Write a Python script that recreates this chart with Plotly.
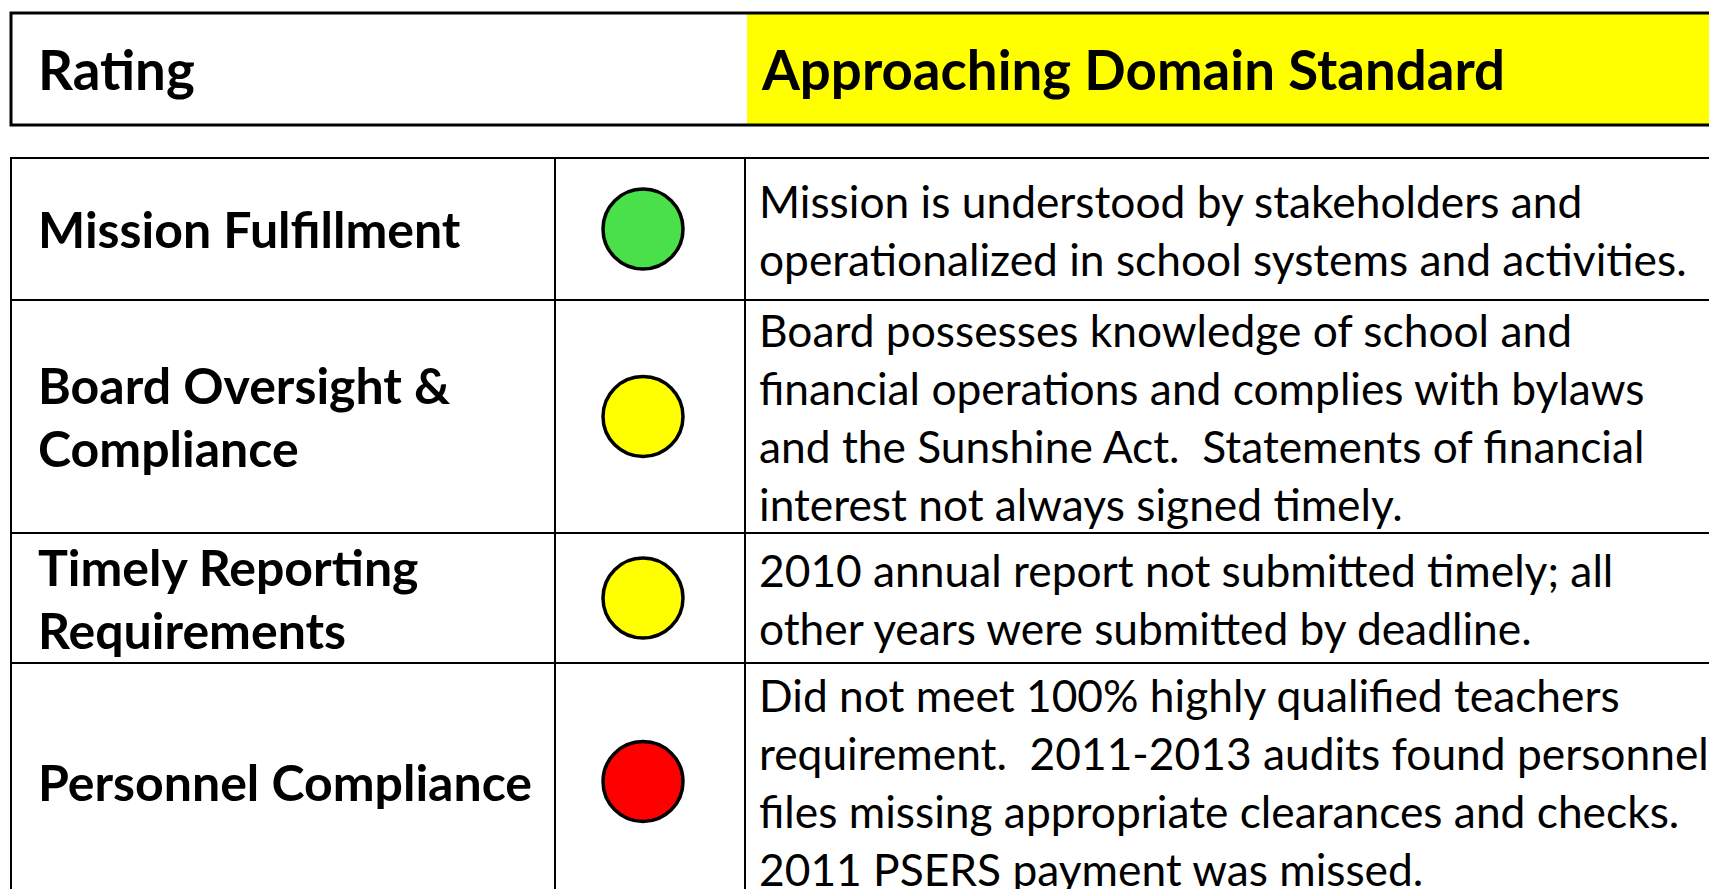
import plotly.graph_objects as go

# ---- data ----
header_label = "Rating"
header_value = "Approaching Domain Standard"
categories = [
    ["Mission Fulfillment"],
    ["Board Oversight &", "Compliance"],
    ["Timely Reporting", "Requirements"],
    ["Personnel Compliance"],
]
ratings = ["green", "yellow", "yellow", "red"]
descriptions = [
    ["Mission is understood by stakeholders and",
     "operationalized in school systems and activities."],
    ["Board possesses knowledge of school and",
     "financial operations and complies with bylaws",
     "and the Sunshine Act.  Statements of financial",
     "interest not always signed timely."],
    ["2010 annual report not submitted timely; all",
     "other years were submitted by deadline."],
    ["Did not meet 100% highly qualified teachers",
     "requirement.  2011-2013 audits found personnel",
     "files missing appropriate clearances and checks.",
     "2011 PSERS payment was missed."],
]

# ---- layout constants ----
W, H = 1709, 889
FONT = "Lato"
rating_colors = {"green": "#4AE04A", "yellow": "#FFFF00", "red": "#FF0000"}
row_edges = [158, 300, 533, 663, 900]
col_edges = [11, 555, 745, 1720]
hdr_top, hdr_bot, hdr_left, hdr_split = 13, 125, 11, 747
label_x, desc_x = 36, 757
label_spacing, desc_spacing = 63, 58
label_size, desc_size, header_size = 50, 44.3, 54.6

fig = go.Figure()
shapes = []
annotations = []

# header box
shapes.append(dict(type="rect", xref="x", yref="y", x0=hdr_split, x1=1720, y0=hdr_top, y1=hdr_bot,
                   fillcolor="#FFFF00", line=dict(width=0), layer="below"))
shapes.append(dict(type="rect", xref="x", yref="y", x0=hdr_left, x1=1720, y0=hdr_top, y1=hdr_bot,
                   fillcolor="rgba(0,0,0,0)", line=dict(color="black", width=3)))
hdr_mid = (hdr_top + hdr_bot) / 2
annotations.append(dict(x=label_x, y=hdr_mid, text="<b>%s</b>" % header_label, showarrow=False,
                        xanchor="left", yanchor="middle", font=dict(family=FONT, size=header_size, color="black")))
annotations.append(dict(x=hdr_split + 12, y=hdr_mid, text="<b>%s</b>" % header_value, showarrow=False,
                        xanchor="left", yanchor="middle", font=dict(family=FONT, size=header_size, color="black")))

# table grid
shapes.append(dict(type="rect", xref="x", yref="y", x0=col_edges[0], x1=col_edges[-1], y0=row_edges[0], y1=row_edges[-1],
                   fillcolor="rgba(0,0,0,0)", line=dict(color="black", width=2)))
for yb in row_edges[1:-1]:
    shapes.append(dict(type="line", xref="x", yref="y", x0=col_edges[0], x1=col_edges[-1], y0=yb, y1=yb,
                       line=dict(color="black", width=2)))
for xb in col_edges[1:-1]:
    shapes.append(dict(type="line", xref="x", yref="y", x0=xb, x1=xb, y0=row_edges[0], y1=row_edges[-1],
                       line=dict(color="black", width=2)))

row_centers = [(row_edges[i] + row_edges[i + 1]) / 2 for i in range(len(categories))]

for i, (lab, desc) in enumerate(zip(categories, descriptions)):
    c = row_centers[i]
    n = len(lab)
    for j, line in enumerate(lab):
        annotations.append(dict(x=label_x, y=c + (j - (n - 1) / 2) * label_spacing, text="<b>%s</b>" % line,
                                showarrow=False, xanchor="left", yanchor="middle",
                                font=dict(family=FONT, size=label_size, color="black")))
    n = len(desc)
    for j, line in enumerate(desc):
        annotations.append(dict(x=desc_x, y=c + (j - (n - 1) / 2) * desc_spacing, text=line,
                                showarrow=False, xanchor="left", yanchor="middle",
                                font=dict(family=FONT, size=desc_size, color="black")))

circle_x = (col_edges[1] + col_edges[2]) / 2 - 7
fig.add_trace(go.Scatter(
    x=[circle_x] * len(ratings), y=row_centers, mode="markers",
    marker=dict(size=80, color=[rating_colors[r] for r in ratings], line=dict(color="black", width=3.5)),
    hoverinfo="skip", showlegend=False))

fig.update_layout(
    width=W, height=H, margin=dict(l=0, r=0, t=0, b=0),
    paper_bgcolor="white", plot_bgcolor="white",
    xaxis=dict(range=[0, W], visible=False, fixedrange=True),
    yaxis=dict(range=[H, 0], visible=False, fixedrange=True),
    shapes=shapes, annotations=annotations, showlegend=False,
)

fig.write_html("out.html", config={"displayModeBar": False},
               post_script="document.body.style.margin='0';document.body.style.overflow='hidden';")
